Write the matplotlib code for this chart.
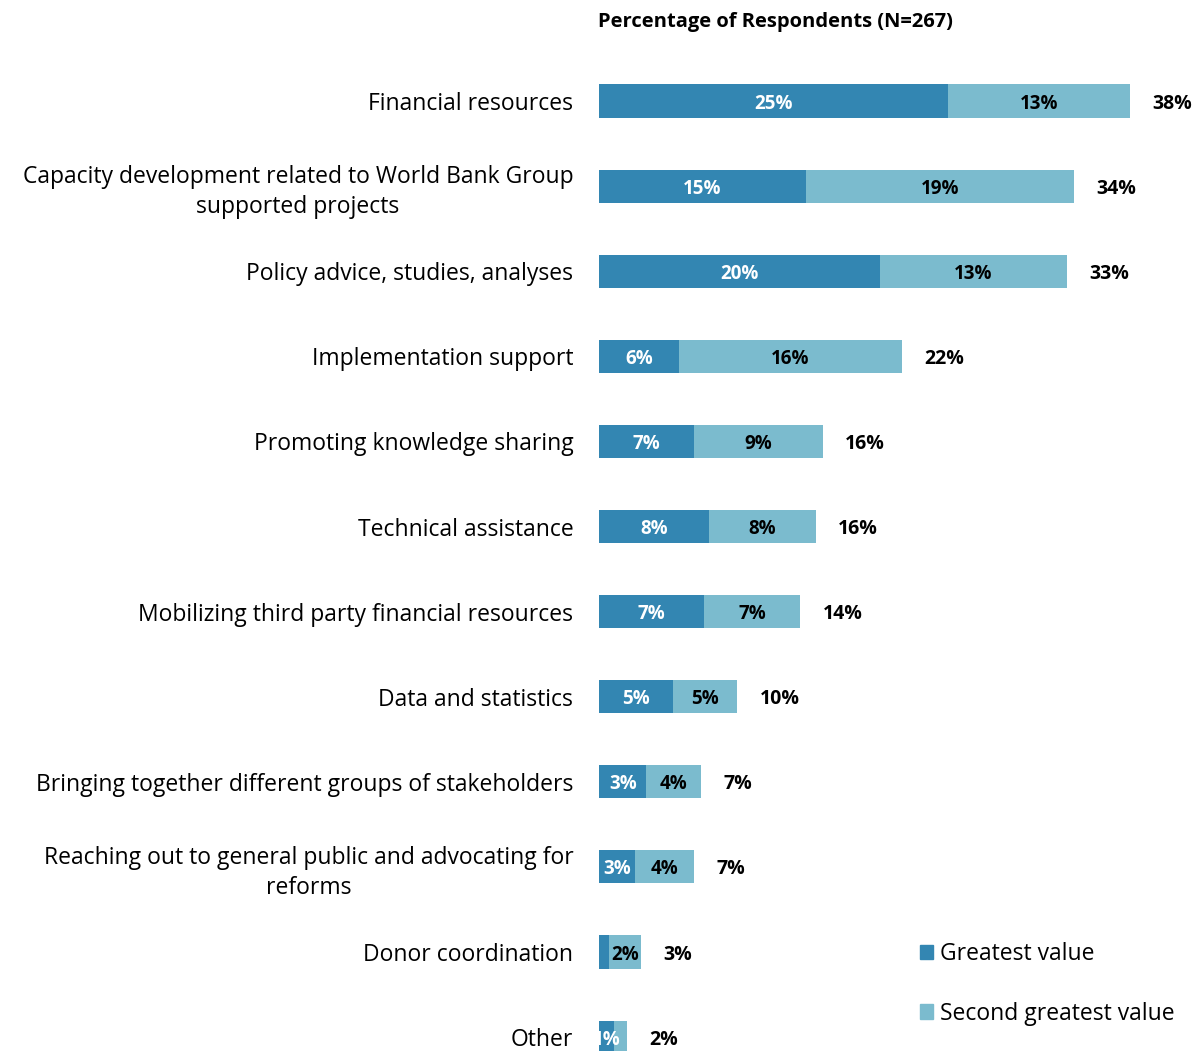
import matplotlib
matplotlib.use("Agg")
import matplotlib.pyplot as plt
from matplotlib.patches import Patch

categories = [
    "Financial resources",
    "Capacity development related to World Bank Group\nsupported projects",
    "Policy advice, studies, analyses",
    "Implementation support",
    "Promoting knowledge sharing",
    "Technical assistance",
    "Mobilizing third party financial resources",
    "Data and statistics",
    "Bringing together different groups of stakeholders",
    "Reaching out to general public and advocating for\nreforms",
    "Donor coordination",
    "Other",
]
greatest = [25.0, 14.8, 20.1, 5.7, 6.8, 7.9, 7.5, 5.3, 3.4, 2.6, 0.7, 1.1]
second = [13.0, 19.2, 13.4, 16.0, 9.2, 7.6, 6.9, 4.6, 3.9, 4.2, 2.3, 0.9]
greatest_labels = ["25%", "15%", "20%", "6%", "7%", "8%", "7%", "5%", "3%", "3%", "", "1%"]
second_labels = ["13%", "19%", "13%", "16%", "9%", "8%", "7%", "5%", "4%", "4%", "2%", ""]
total_labels = ["38%", "34%", "33%", "22%", "16%", "16%", "14%", "10%", "7%", "7%", "3%", "2%"]
series_names = ["Greatest value", "Second greatest value"]
title = "Percentage of Respondents (N=267)"

FONT = ["Open Sans", "DejaVu Sans"]
plt.rcParams["font.family"] = FONT

C1 = "#3386B2"
C2 = "#7BBBCE"

W, H = 1200, 1051
fig = plt.figure(figsize=(W / 100, H / 100), dpi=100)
ax = fig.add_axes([599 / W, 0, 1 - 599 / W, 1])

y = list(range(len(categories)))
ax.barh(y, greatest, height=0.39, color=C1)
ax.barh(y, second, left=greatest, height=0.39, color=C2)

dy = 0.03
for i in y:
    if greatest_labels[i]:
        ax.text(greatest[i] / 2, i + dy, greatest_labels[i], ha="center", va="center",
                color="white", fontsize=13.5, fontweight="bold")
    if second_labels[i]:
        ax.text(greatest[i] + second[i] / 2, i + dy, second_labels[i], ha="center", va="center",
                color="black", fontsize=13.5, fontweight="bold")
    ax.text(greatest[i] + second[i] + 1.6, i + dy, total_labels[i], ha="left", va="center",
            color="black", fontsize=14, fontweight="bold")

ax.set_xlim(0, (W - 599) / 13.97)
ax.set_ylim((H - 101) / 85.1, -101 / 85.1)
ax.set_yticks(y)
ax.set_yticklabels(categories, fontsize=16.5)
for t in ax.get_yticklabels():
    t.set_multialignment("center")
    t.set_linespacing(1.32)
ax.tick_params(axis="y", length=0, pad=18.5)
ax.set_xticks([])
for s in ax.spines.values():
    s.set_visible(False)
ax.patch.set_alpha(0)

fig.text(775 / W, 1 - 22 / H, title, ha="center", va="center", fontsize=14.5, fontweight="bold")

handles = [Patch(color=C1), Patch(color=C2)]
fig.legend(handles, series_names, loc="center left", bbox_to_anchor=(899 / W, 1 - 984 / H),
           frameon=False, fontsize=16.5, handlelength=0.6, handleheight=0.6, handletextpad=0.3,
           labelspacing=1.55)

fig.savefig("out.png", dpi=100)
